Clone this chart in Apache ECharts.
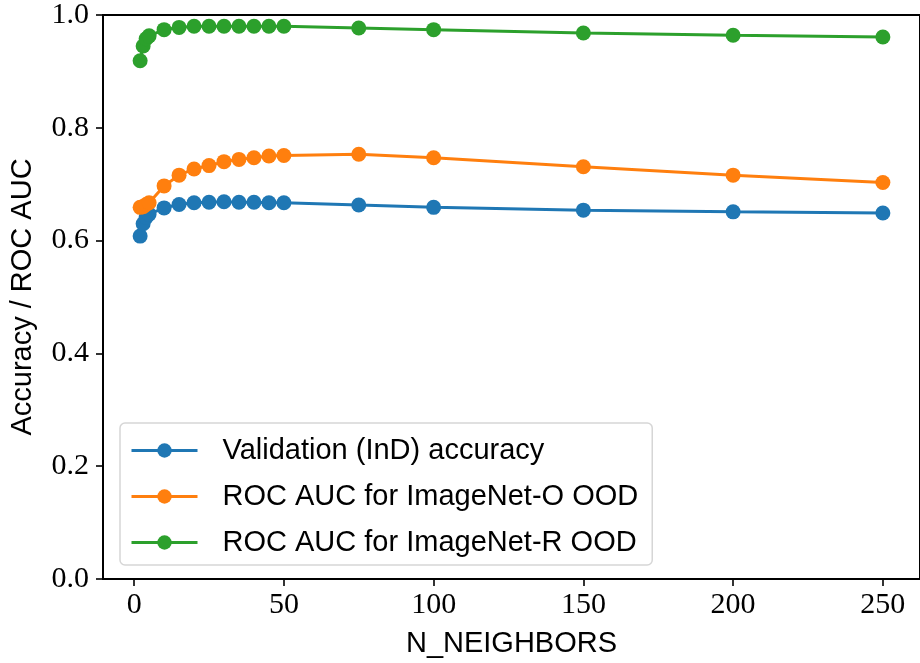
<!DOCTYPE html>
<html>
<head>
<meta charset="utf-8">
<script src="https://cdn.jsdelivr.net/npm/echarts@6/dist/echarts.min.js"></script>
<style>
  html, body { margin: 0; padding: 0; background: #fff; }
  #chart { width: 920px; height: 663px; }
</style>
</head>
<body>
<div id="chart"></div>
<script>
// data
var nNeighbors = [2, 3, 4, 5, 10, 15, 20, 25, 30, 35, 40, 45, 50, 75, 100, 150, 200, 250];
var valAcc = [0.608, 0.630, 0.641, 0.647, 0.658, 0.664, 0.667, 0.668, 0.669, 0.668, 0.668, 0.667, 0.667, 0.663, 0.659, 0.654, 0.651, 0.649];
var rocO = [0.659, 0.660, 0.664, 0.667, 0.697, 0.716, 0.727, 0.733, 0.740, 0.744, 0.747, 0.750, 0.751, 0.753, 0.747, 0.731, 0.716, 0.703];
var rocR = [0.919, 0.945, 0.958, 0.963, 0.974, 0.978, 0.980, 0.980, 0.980, 0.980, 0.980, 0.980, 0.980, 0.977, 0.974, 0.968, 0.964, 0.961];
var xTicks = [0, 50, 100, 150, 200, 250];
var seriesNames = ['Validation (InD) accuracy', 'ROC AUC for ImageNet-O OOD', 'ROC AUC for ImageNet-R OOD'];
var colors = ['#1f77b4', '#ff7f0e', '#2ca02c'];

var tickFont = '"Liberation Serif", "DejaVu Serif", serif';
var sansFont = '"Liberation Sans", "DejaVu Sans", sans-serif';

function pairs(ys) {
    var res = [];
    for (var i = 0; i < nNeighbors.length; i++) {
        res.push([nNeighbors[i], ys[i]]);
    }
    return res;
}

function makeSeries(name, ys, color) {
    return {
        name: name,
        type: 'line',
        data: pairs(ys),
        symbol: 'circle',
        symbolSize: 15,
        showAllSymbol: true,
        lineStyle: { width: 3, color: color },
        itemStyle: { color: color },
        emphasis: { disabled: true }
    };
}

var chart = echarts.init(document.getElementById('chart'));
var option = {
    animation: false,
    color: colors,
    grid: {
        left: 103, right: -3, top: 13, bottom: 80,
        show: true, borderColor: '#000', borderWidth: 2, backgroundColor: 'transparent'
    },
    legend: {
        left: 120, top: 423,
        orient: 'vertical',
        data: seriesNames,
        itemWidth: 66, itemHeight: 18,
        itemGap: 13,
        padding: [11, 14, 6, 10],
        borderColor: '#d6d6d6', borderWidth: 1.5, borderRadius: 5,
        backgroundColor: 'rgba(255,255,255,0.8)',
        lineStyle: { width: 3 },
        textStyle: {
            fontFamily: sansFont, fontSize: 29, color: '#000',
            lineHeight: 33, padding: [0, 0, 0, 20]
        },
        z: 10
    },
    xAxis: {
        type: 'value',
        min: -10.4, max: 262.4,
        name: 'N_NEIGHBORS',
        nameLocation: 'middle',
        nameGap: 50,
        nameTextStyle: { fontFamily: sansFont, fontSize: 29, color: '#000' },
        axisLine: { onZero: false, lineStyle: { color: '#000', width: 2 } },
        axisTick: { length: 7, lineStyle: { color: '#000', width: 1.6 }, customValues: xTicks },
        axisLabel: {
            customValues: xTicks,
            fontFamily: tickFont, fontSize: 30, color: '#000', margin: 11
        },
        splitLine: { show: false }
    },
    yAxis: {
        type: 'value',
        min: 0, max: 1, interval: 0.2,
        name: 'Accuracy / ROC AUC',
        nameLocation: 'middle',
        nameGap: 66,
        nameTextStyle: { fontFamily: sansFont, fontSize: 29, color: '#000' },
        axisLine: { show: true, onZero: false, lineStyle: { color: '#000', width: 2 } },
        axisTick: { show: true, length: 7, lineStyle: { color: '#000', width: 1.6 } },
        axisLabel: {
            fontFamily: tickFont, fontSize: 30, color: '#000', margin: 14,
            formatter: function (v) { return v.toFixed(1); }
        },
        splitLine: { show: false }
    },
    series: [
        makeSeries(seriesNames[0], valAcc, colors[0]),
        makeSeries(seriesNames[1], rocO, colors[1]),
        makeSeries(seriesNames[2], rocR, colors[2])
    ]
};
chart.setOption(option);
</script>
</body>
</html>
